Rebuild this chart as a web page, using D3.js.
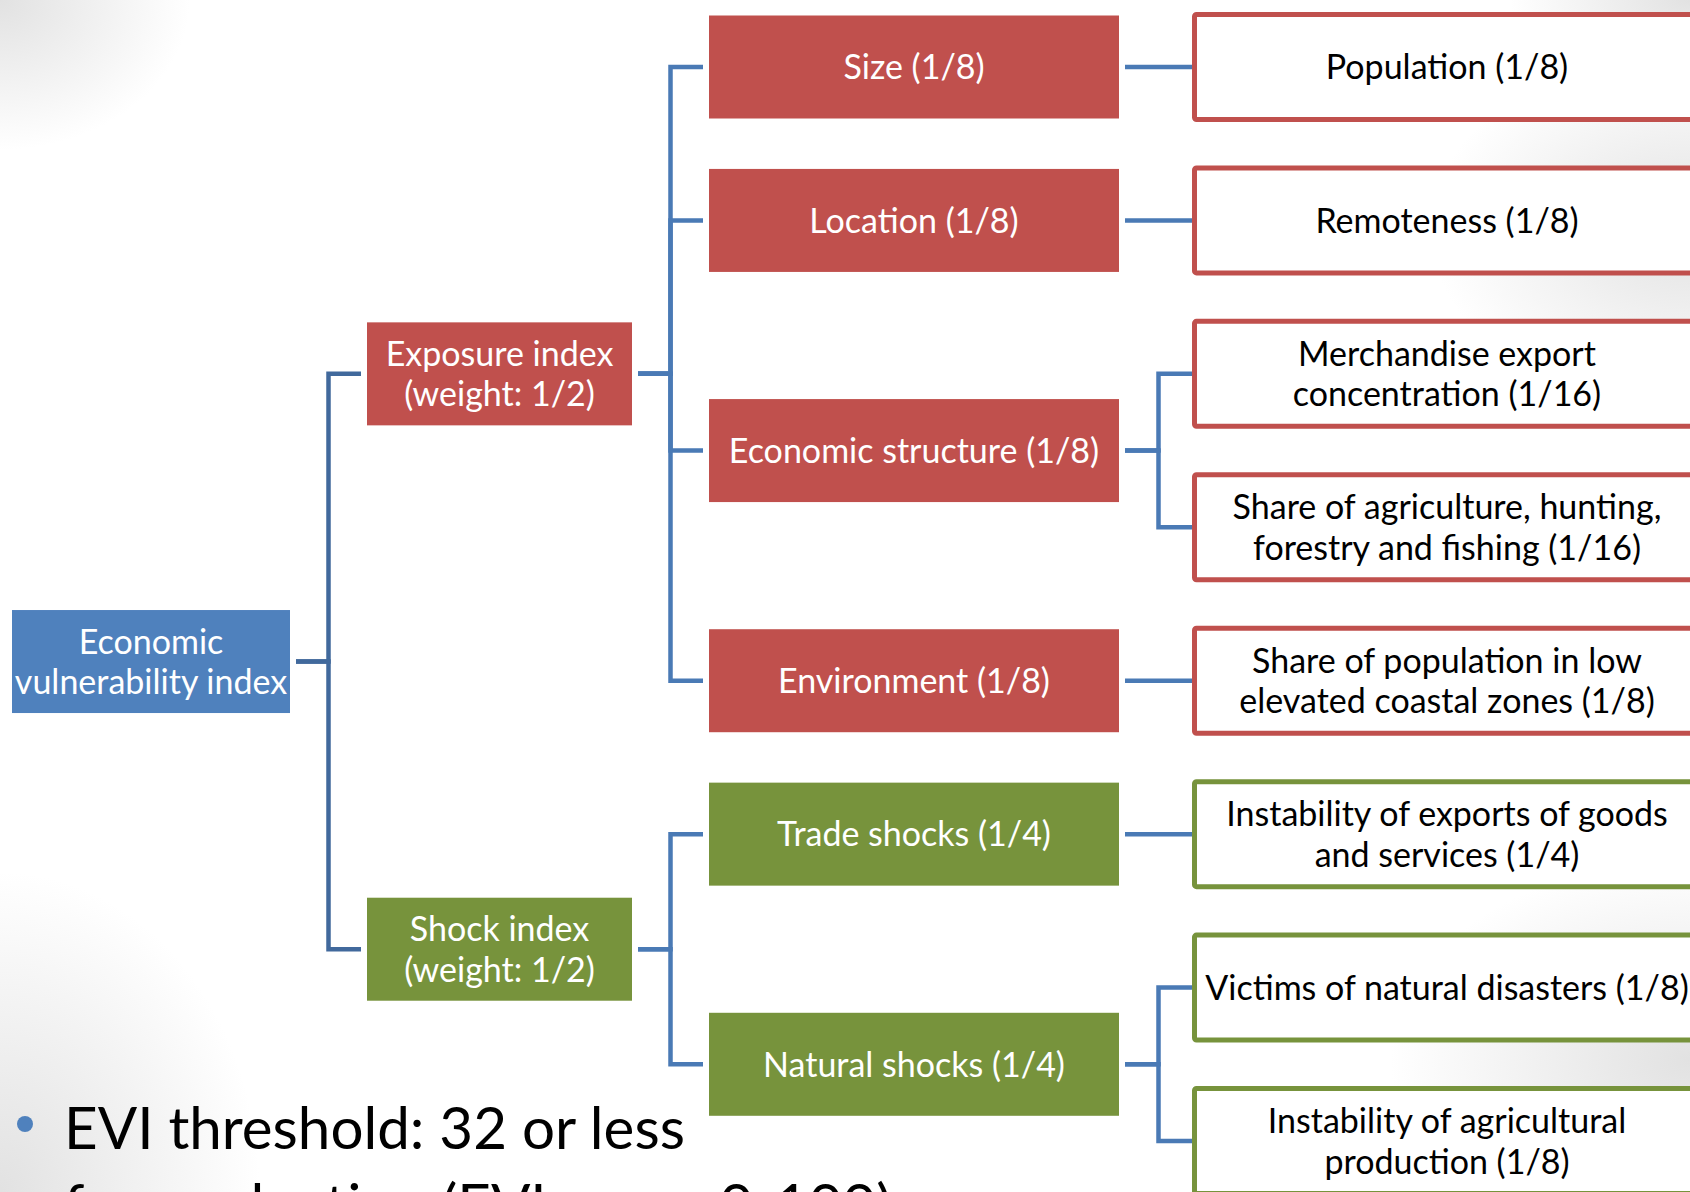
<!DOCTYPE html>
<html><head><meta charset="utf-8">
<script src="https://cdn.jsdelivr.net/npm/d3@7"></script>
<style>html,body{margin:0;padding:0;background:#fff;overflow:hidden}svg{display:block}</style>
</head><body>
<svg id="chart" width="1690" height="1192"></svg>
<script>
// Structure of the Economic Vulnerability Index (EVI)
const rootLabel = "Economic\nvulnerability index";
const indexLabels = ["Exposure index\n(weight: 1/2)", "Shock index\n(weight: 1/2)"];
const indexGroups = ["exposure", "shock"];
const componentLabels = ["Size (1/8)", "Location (1/8)", "Economic structure (1/8)",
  "Environment (1/8)", "Trade shocks (1/4)", "Natural shocks (1/4)"];
const componentParent = [0, 0, 0, 0, 1, 1];
const indicatorLabels = [
  "Population (1/8)",
  "Remoteness (1/8)",
  "Merchandise export\nconcentration (1/16)",
  "Share of agriculture, hunting,\nforestry and fishing (1/16)",
  "Share of population in low\nelevated coastal zones (1/8)",
  "Instability of exports of goods\nand services (1/4)",
  "Victims of natural disasters (1/8)",
  "Instability of agricultural\nproduction (1/8)"
];
const indicatorParent = [0, 1, 2, 2, 3, 4, 5, 5];
const bulletLines = ["EVI threshold: 32 or less", "for graduation (EVI range 0-100)"];

const W = 1690, H = 1192;
const fills = {root: "#4F81BD", exposure: "#C0504D", shock: "#77933C"};
const svg = d3.select("#chart");

// soft grey shading of the slide background
const defs = svg.append("defs");
const rg = defs.append("radialGradient").attr("id", "shade");
rg.append("stop").attr("offset", "0%").attr("stop-color", "#d8d8d8").attr("stop-opacity", 0.75);
rg.append("stop").attr("offset", "100%").attr("stop-color", "#d8d8d8").attr("stop-opacity", 0);
const shades = [
  {cx: 0, cy: 0, rx: 190, ry: 150},
  {cx: 0, cy: 1192, rx: 260, ry: 320},
  {cx: 1690, cy: 230, rx: 260, ry: 180},
  {cx: 1690, cy: 1060, rx: 300, ry: 200},
  {cx: 1690, cy: 0, rx: 180, ry: 90}
];
svg.append("g").selectAll("ellipse").data(shades).join("ellipse")
  .attr("cx", d => d.cx).attr("cy", d => d.cy).attr("rx", d => d.rx).attr("ry", d => d.ry)
  .attr("fill", "url(#shade)");

// build the hierarchy
const tree = {name: rootLabel, group: "root",
  children: indexLabels.map((l, i) => ({name: l, group: indexGroups[i], children: []}))};
const comps = componentLabels.map((l, i) => {
  const c = {name: l, group: tree.children[componentParent[i]].group, children: []};
  tree.children[componentParent[i]].children.push(c);
  return c;
});
indicatorLabels.forEach((l, i) => {
  comps[indicatorParent[i]].children.push({name: l, group: comps[indicatorParent[i]].group, leaf: true});
});

const root = d3.hierarchy(tree);
d3.tree().nodeSize([1, 1]).separation(() => 1)(root);

const ext = d3.extent(root.leaves(), d => d.x);
const yScale = d3.scaleLinear().domain(ext).range([67, 1141]);
const colLeft = d3.scaleOrdinal().domain([0, 1, 2, 3]).range([12, 367, 709, 1192]);
const colWidth = d3.scaleOrdinal().domain([0, 1, 2, 3]).range([278, 265, 410, 520]);
const boxH = 103, gap = 6;

// elbow connectors
const links = svg.append("g").attr("fill", "none").attr("stroke-width", 4.5)
  .attr("stroke-linejoin", "miter").attr("stroke-linecap", "butt");
root.links().forEach(({source, target}) => {
  const sx = colLeft(source.depth) + colWidth(source.depth) + gap;
  const ex = target.data.leaf ? colLeft(target.depth) : colLeft(target.depth) - gap;
  const mx = (sx + ex) / 2;
  const p = d3.path();
  p.moveTo(sx, yScale(source.x));
  p.lineTo(mx, yScale(source.x));
  p.lineTo(mx, yScale(target.x));
  p.lineTo(ex, yScale(target.x));
  links.append("path").attr("d", p.toString())
    .attr("stroke", source.depth === 0 ? "#41699C" : "#4A7AB5");
});

// boxes
const nodes = svg.append("g").selectAll("g").data(root.descendants()).join("g")
  .attr("transform", d => `translate(${colLeft(d.depth)},${yScale(d.x)})`);
nodes.append("rect")
  .attr("x", d => d.data.leaf ? 2.5 : 0)
  .attr("y", d => d.data.leaf ? -52.5 : -boxH / 2)
  .attr("width", d => colWidth(d.depth))
  .attr("height", d => d.data.leaf ? 105 : boxH)
  .attr("rx", d => d.data.leaf ? 2 : 0)
  .attr("fill", d => d.data.leaf ? "#fff" : fills[d.data.group])
  .attr("stroke", d => d.data.leaf ? fills[d.data.group] : "none")
  .attr("stroke-width", 5);

const lineGap = 40.5;
nodes.append("text")
  .attr("font-family", "Lato, 'Open Sans', sans-serif")
  .attr("font-size", 34)
  .attr("text-anchor", "middle")
  .attr("fill", d => d.data.leaf ? "#000" : "#fff")
  .each(function (d) {
    const lines = d.data.name.split("\n");
    const cx = d.data.leaf ? 255 : colWidth(d.depth) / 2;
    d3.select(this).selectAll("tspan").data(lines).join("tspan")
      .attr("x", cx)
      .attr("y", (l, i) => (i - (lines.length - 1) / 2) * lineGap)
      .attr("dy", "0.36em")
      .text(l => l);
  });

// bullet text below the tree
svg.append("circle").attr("cx", 25).attr("cy", 1124).attr("r", 8).attr("fill", "#4F81BD");
svg.append("g").selectAll("text").data(bulletLines).join("text")
  .attr("x", 64).attr("y", (d, i) => 1149 + i * 77)
  .attr("font-family", "Lato, 'Open Sans', sans-serif")
  .attr("font-size", 58.3)
  .attr("fill", "#000")
  .text(d => d);
</script>
</body></html>
